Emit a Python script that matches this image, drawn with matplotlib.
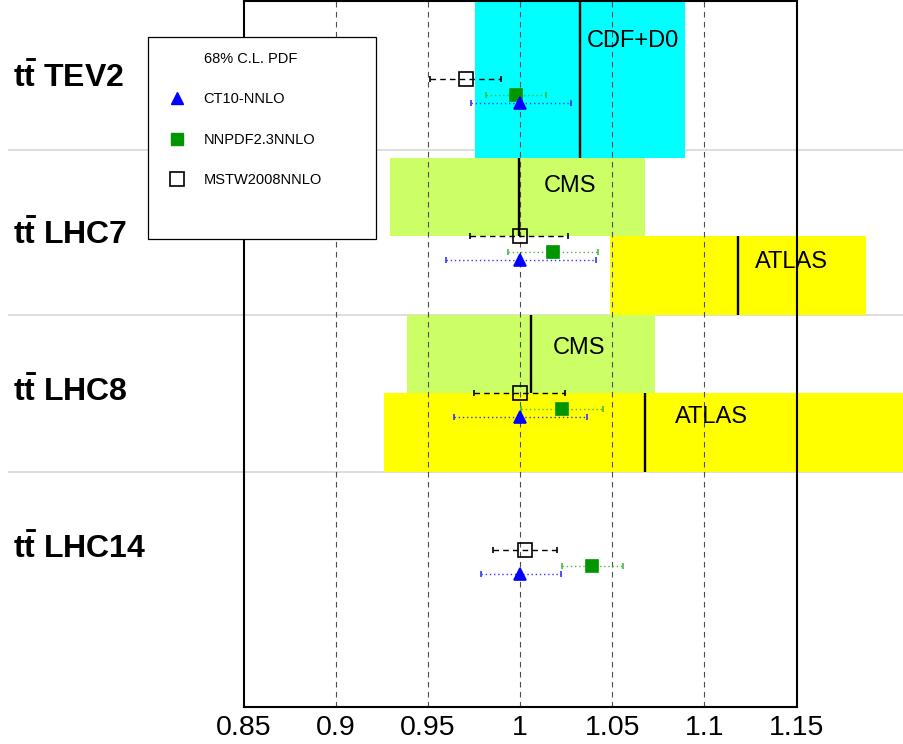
import matplotlib
matplotlib.use("Agg")
import matplotlib.pyplot as plt
from matplotlib.lines import Line2D
from matplotlib.patches import Rectangle

plt.rcParams['font.family'] = ['Liberation Sans', 'DejaVu Sans']
plt.rcParams['mathtext.fontset'] = 'custom'
plt.rcParams['mathtext.rm'] = 'Liberation Sans'
plt.rcParams['mathtext.bf'] = 'Liberation Sans:bold'

# processes, top to bottom
processes = ["TEV2", "LHC7", "LHC8", "LHC14"]
rows = [4, 3, 2, 1]

# PDF predictions (ratio), value / lower / upper edge of 68% band
pdf_sets = ["CT10-NNLO", "NNPDF2.3NNLO", "MSTW2008NNLO"]
ct10_val = [1.0, 1.0, 1.0, 1.0]
ct10_lo = [0.9732, 0.9597, 0.9642, 0.9786]
ct10_hi = [1.0276, 1.0409, 1.0362, 1.0221]
nnpdf_val = [0.9977, 1.0179, 1.0228, 1.0389]
nnpdf_lo = [0.9813, 0.9936, 1.0006, 1.0226]
nnpdf_hi = [1.0141, 1.0422, 1.0451, 1.0556]
mstw_val = [0.9707, 0.9996, 1.0, 1.0027]
mstw_lo = [0.9510, 0.9728, 0.9750, 0.9852]
mstw_hi = [0.9897, 1.0260, 1.0245, 1.0199]

# measurements
exp_names = ["CDF+D0", "CMS", "ATLAS", "CMS", "ATLAS"]
exp_row = [4, 3, 3, 2, 2]
exp_val = [1.0326, 0.9991, 1.1181, 1.0060, 1.0678]
exp_lo = [0.9755, 0.9293, 1.0486, 0.9384, 0.9260]
exp_hi = [1.0897, 1.0679, 1.1879, 1.0730, 1.2096]

xticks = [0.85, 0.9, 0.95, 1.0, 1.05, 1.1, 1.15]
xticklabels = ["0.85", "0.9", "0.95", "1", "1.05", "1.1", "1.15"]

# layout / style
exp_color = ["#00ffff", "#ccff66", "#ffff00", "#ccff66", "#ffff00"]
exp_span = [(-0.5, 0.5), (0.0, 0.5), (-0.5, 0.0), (0.0, 0.5), (-0.5, 0.0)]
exp_text_x = [1.0359, 1.0125, 1.1277, 1.0179, 1.0842]
exp_text_dy = [0.248, 0.318, -0.166, 0.287, -0.153]
sep_y = [3.55, 2.5, 1.5]

fig = plt.figure(figsize=(9.04, 7.44), dpi=100)
ax = fig.add_axes([244 / 904, 37 / 744, 552.5 / 904, 706 / 744])
ax.set_xlim(0.85, 1.15)
ax.set_ylim(0, 4.5)

# light separators between processes
ax.hlines(sep_y, 0.7218, 1.3, color="#d8d8d8", lw=1.2, clip_on=False, zorder=0.5)

# experimental bands
for name, r, v, lo, hi, c, sp, tx, tdy in zip(exp_names, exp_row, exp_val, exp_lo, exp_hi,
                                               exp_color, exp_span, exp_text_x, exp_text_dy):
    ax.barh(r + sp[0], hi - lo, left=lo, height=sp[1] - sp[0], align="edge",
            color=c, lw=0, clip_on=False, zorder=1)
    ax.vlines(v, r + sp[0], r + sp[1], color="black", lw=1.7, clip_on=False, zorder=2)
    ax.text(tx, r + tdy, name, fontsize=17, ha="left", va="center", zorder=3)

# dashed grid
ax.vlines(xticks[1:-1], 0, 4.5, color="0.3", lw=0.8, linestyles=(0, (5, 4)), zorder=1.8)

# PDF predictions
def pdf_points(vals, lo, hi, dy, marker, ms, col, mfc, ecol, ls, lbl):
    ys = [r + dy for r in rows]
    err = [[v - l for v, l in zip(vals, lo)], [h - v for v, h in zip(vals, hi)]]
    eb = ax.errorbar(vals, ys, xerr=err, fmt=marker, ms=ms, color=col, mfc=mfc, mec=col,
                     mew=1.2, ecolor=ecol, elinewidth=1.0, capsize=2.5, capthick=0.9,
                     zorder=4, label=lbl)
    eb[2][0].set_linestyle(ls)
    return eb

pdf_points(mstw_val, mstw_lo, mstw_hi, 0.0, "s", 9.5, "black", "none", "black",
           (0, (4, 3)), pdf_sets[2])
pdf_points(nnpdf_val, nnpdf_lo, nnpdf_hi, -0.1, "s", 9, "#009600", "#009600", "#44bb44",
           (0, (1, 2)), pdf_sets[1])
pdf_points(ct10_val, ct10_lo, ct10_hi, -0.15, "^", 9, "blue", "blue", "#3333ff",
           (0, (1, 2)), pdf_sets[0])

# process labels
for p, r in zip(processes, rows):
    ax.text(0.7245, r + 0.01, r"$\mathbf{t\bar{t}}$ " + p, fontsize=23, fontweight="bold",
            ha="left", va="center", clip_on=False)

# legend
ax.add_patch(Rectangle((0.7978, 2.981), 0.1239, 1.287, facecolor="white",
                       edgecolor="black", lw=0.9, clip_on=False, zorder=4.9))
handles = [Line2D([], [], ls="none"),
           Line2D([], [], ls="none", marker="^", ms=9, color="blue"),
           Line2D([], [], ls="none", marker="s", ms=9, color="#009600"),
           Line2D([], [], ls="none", marker="s", ms=9.5, mfc="none", mec="black", mew=1.2)]
labels = ["68% C.L. PDF"] + pdf_sets
leg = ax.legend(handles, labels, loc="upper left", bbox_to_anchor=(157 / 904, 1 - 46 / 744),
                bbox_transform=fig.transFigure, frameon=False, fontsize=10.5,
                labelspacing=1.82, borderaxespad=0)
leg.set_zorder(5)

ax.set_xticks(xticks)
ax.set_xticklabels(xticklabels)
ax.set_yticks([])
ax.tick_params(axis="x", length=0, labelsize=20.5, pad=6)
for s in ax.spines.values():
    s.set_linewidth(1.5)
    s.set_zorder(3)

fig.savefig("out.png", dpi=100)
